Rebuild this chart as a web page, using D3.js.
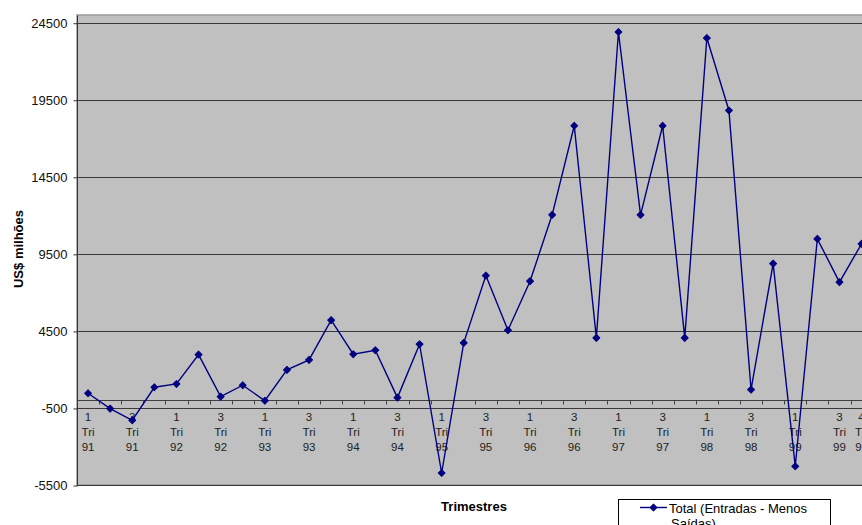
<!DOCTYPE html>
<html>
<head>
<meta charset="utf-8">
<script src="https://cdn.jsdelivr.net/npm/d3@7/dist/d3.min.js"></script>
<style>
  html, body { margin: 0; padding: 0; background: #fff; overflow: hidden; }
  svg { display: block; font-family: Arial, "Liberation Sans", sans-serif; }
</style>
</head>
<body>
<svg id="chart" width="862" height="525"></svg>
<script>
// Quarterly categories (trimestre / ano)
const quarters = ["1", "2", "3", "4"];
const years = ["91", "92", "93", "94", "95", "96", "97", "98", "99"];
const categories = years.flatMap(y => quarters.map(q => q + " Tri " + y));

// Total (Entradas - Menos Saídas), US$ milhões
const totalValues = [
  455, -545, -1300, 844, 1058, 2961, 234, 974, -30, 1968, 2617, 5195,
  2987, 3247, 169, 3636, -4721, 3721, 8091, 4545, 7727, 12032, 17812, 4045,
  23896, 12032, 17812, 4045, 23506, 18805, 688, 8870, -4286, 10474, 7662, 10149
];

// Y axis ticks
const yTicks = [-5500, -500, 4500, 9500, 14500, 19500, 24500];

// Category labels that are written under the axis
const shownLabels = [
  "1 Tri 91", "3 Tri 91", "1 Tri 92", "3 Tri 92", "1 Tri 93", "3 Tri 93",
  "1 Tri 94", "3 Tri 94", "1 Tri 95", "3 Tri 95", "1 Tri 96", "3 Tri 96",
  "1 Tri 97", "3 Tri 97", "1 Tri 98", "3 Tri 98", "1 Tri 99", "3 Tri 99", "4 Tri 99"
];

const seriesName = ["Total (Entradas - Menos", "Saídas)"];

const svg = d3.select("#chart");
const plot = { left: 77, top: 15, bottom: 485, step: 22.1 };
plot.right = plot.left + categories.length * plot.step;

const x = d3.scaleBand().domain(categories).range([plot.left, plot.right]);
const y = d3.scaleLinear().domain([-5500, 25000]).range([plot.bottom, plot.top]);
const cx = d => x(d) + x.bandwidth() / 2;

// Plot area
svg.append("rect")
  .attr("x", plot.left).attr("y", plot.top)
  .attr("width", plot.right - plot.left).attr("height", plot.bottom - plot.top)
  .attr("fill", "#c0c0c0").attr("stroke", "#9a9a9a").attr("stroke-width", 1.5);

// Horizontal gridlines
svg.append("g").selectAll("line").data(yTicks).join("line")
  .attr("x1", plot.left).attr("x2", plot.right)
  .attr("y1", d => Math.round(y(d)) + 0.5).attr("y2", d => Math.round(y(d)) + 0.5)
  .attr("stroke", "#3a3a3a").attr("stroke-width", 1.2);

// Y axis
const yAxis = svg.append("g")
  .attr("transform", `translate(${plot.left + 0.5},0.5)`)
  .call(d3.axisLeft(y).tickValues(yTicks).tickSize(4).tickPadding(6).tickFormat(d => String(d)));
yAxis.select(".domain").attr("stroke", "#333").attr("d", `M-0,${plot.top}V${plot.bottom}`);
yAxis.selectAll(".tick line").attr("stroke", "#333");
yAxis.selectAll(".tick text").attr("font-size", 13).attr("fill", "#111")
  .attr("font-family", "Arial, 'Liberation Sans', sans-serif");

// Category axis crossing at zero
const y0 = Math.round(y(0)) + 0.5;
const xAxis = svg.append("g").attr("transform", `translate(0,${y0})`);
xAxis.append("line")
  .attr("x1", plot.left).attr("x2", plot.right)
  .attr("stroke", "#404040").attr("stroke-width", 1);
xAxis.selectAll(".cat-tick").data(categories.slice(1)).join("line")
  .attr("class", "cat-tick")
  .attr("x1", d => Math.round(x(d)) + 0.5).attr("x2", d => Math.round(x(d)) + 0.5)
  .attr("y1", 0).attr("y2", 4)
  .attr("stroke", "#404040");

const labelG = svg.append("g")
  .attr("font-size", 11.5).attr("fill", "#222").attr("text-anchor", "middle");
shownLabels.forEach(lbl => {
  const t = labelG.append("text").attr("x", cx(lbl)).attr("y", 421);
  lbl.split(" ").forEach((part, i) => {
    t.append("tspan").attr("x", cx(lbl)).attr("dy", i === 0 ? 0 : 15).text(part);
  });
});

// Series line and diamond markers
const line = d3.line().x((d, i) => cx(categories[i])).y(d => y(d));
svg.append("path").datum(totalValues)
  .attr("d", line).attr("fill", "none")
  .attr("stroke", "#000080").attr("stroke-width", 1.4);

const marker = d3.symbol().type(d3.symbolSquare).size(24);
svg.append("g").selectAll("path").data(totalValues).join("path")
  .attr("d", marker)
  .attr("transform", (d, i) => `translate(${cx(categories[i])},${y(d)}) rotate(45)`)
  .attr("fill", "#000080").attr("stroke", "#000080").attr("stroke-width", 1)
  .attr("stroke-linejoin", "round");

// Axis titles
svg.append("text")
  .attr("x", 474).attr("y", 511).attr("text-anchor", "middle")
  .attr("font-size", 13).attr("font-weight", "bold").attr("fill", "#000")
  .text("Trimestres");
svg.append("text")
  .attr("transform", "translate(23,249) rotate(-90)").attr("text-anchor", "middle")
  .attr("font-size", 13).attr("font-weight", "bold").attr("fill", "#000")
  .text("US$ milhões");

// Legend
const legend = svg.append("g");
legend.append("rect")
  .attr("x", 618.5).attr("y", 499.5).attr("width", 212).attr("height", 40)
  .attr("fill", "#fff").attr("stroke", "#000").attr("stroke-width", 1);
legend.append("line")
  .attr("x1", 640).attr("x2", 667).attr("y1", 507.5).attr("y2", 507.5)
  .attr("stroke", "#000080").attr("stroke-width", 1.4);
legend.append("path").attr("d", marker)
  .attr("transform", "translate(653.5,507.5) rotate(45)")
  .attr("fill", "#000080").attr("stroke", "#000080").attr("stroke-width", 1)
  .attr("stroke-linejoin", "round");
const legendText = legend.append("text")
  .attr("x", 669).attr("y", 512.5).attr("font-size", 13).attr("fill", "#000");
seriesName.forEach((s, i) => {
  legendText.append("tspan").attr("x", i === 0 ? 669 : 671).attr("dy", i === 0 ? 0 : 15).text(s);
});
</script>
</body>
</html>
